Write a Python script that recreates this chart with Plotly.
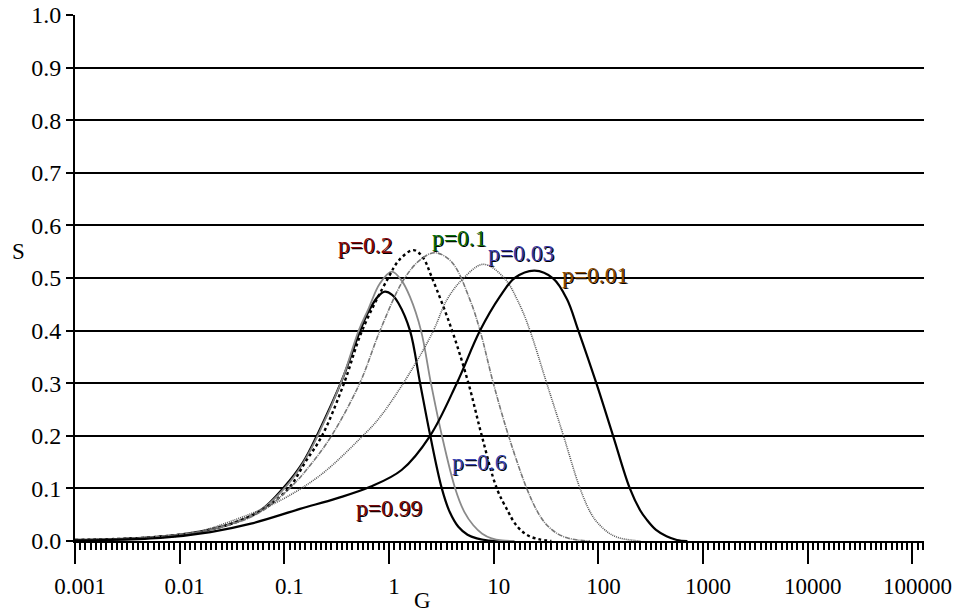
import math
import plotly.graph_objects as go

# ---- data (G on log axis, S linear) ----
G1 = [0.001, 0.0045, 0.0118, 0.028, 0.059, 0.1, 0.151, 0.212, 0.355, 0.53, 0.631, 0.794, 0.912,
      1.07, 1.23, 1.585, 1.98, 2.47, 3.19, 3.8, 4.59, 5.62, 6.89, 8.91, 11.2]
S1 = [0.002, 0.006, 0.014, 0.03, 0.058, 0.103, 0.15, 0.207, 0.306, 0.40, 0.435, 0.466, 0.474,
      0.468, 0.452, 0.40, 0.30, 0.201, 0.10, 0.055, 0.027, 0.012, 0.005, 0.001, 0.0]

G2 = [0.001, 0.00447, 0.01175, 0.0282, 0.0589, 0.1, 0.151, 0.214, 0.355, 0.513, 0.631, 0.82,
      1.062, 1.318, 1.585, 2.02, 2.512, 3.19, 4.28, 5.25, 6.38, 7.76, 9.55, 12.0, 15.8]
S2 = [0.002, 0.006, 0.014, 0.03, 0.058, 0.100, 0.148, 0.205, 0.306, 0.40, 0.44, 0.49,
      0.512, 0.495, 0.464, 0.40, 0.30, 0.201, 0.10, 0.055, 0.030, 0.014, 0.005, 0.001, 0.0]

G3 = [0.001, 0.00447, 0.01175, 0.0282, 0.0589, 0.1096, 0.1585, 0.229, 0.3715, 0.553, 0.98, 1.259,
      1.71, 2.09, 2.576, 4.0, 5.73, 7.69, 10.69, 13.8, 15.5, 17.8, 21.4, 27.5, 35.5]
S3 = [0.002, 0.006, 0.014, 0.03, 0.057, 0.10, 0.15, 0.20, 0.30, 0.40, 0.50, 0.535,
      0.553, 0.540, 0.50, 0.40, 0.30, 0.20, 0.10, 0.055, 0.037, 0.022, 0.010, 0.003, 0.0]

G4 = [0.001, 0.00447, 0.01175, 0.0282, 0.0589, 0.112, 0.178, 0.282, 0.525, 0.82, 1.371, 1.995,
      2.754, 3.981, 5.94, 7.4, 9.91, 13.8, 20.65, 26.3, 31.6, 39.8, 50.1, 63.1, 83.2]
S4 = [0.002, 0.006, 0.014, 0.029, 0.055, 0.10, 0.145, 0.20, 0.30, 0.40, 0.496, 0.535,
      0.548, 0.53, 0.458, 0.40, 0.30, 0.201, 0.10, 0.055, 0.032, 0.015, 0.006, 0.002, 0.0]

G5 = [0.001, 0.00447, 0.01175, 0.0324, 0.0912, 0.22, 0.53, 0.822, 1.71, 2.655, 3.556, 4.94,
      7.943, 12.59, 17.78, 22.18, 32.06, 46.2, 66.7, 85.1, 100, 126, 158, 200, 251]
S5 = [0.002, 0.005, 0.012, 0.039, 0.077, 0.125, 0.195, 0.236, 0.331, 0.40, 0.458, 0.496,
      0.526, 0.50, 0.448, 0.40, 0.30, 0.201, 0.10, 0.052, 0.033, 0.015, 0.006, 0.002, 0.0]

G6 = [0.001, 0.00655, 0.01968, 0.0479, 0.141, 0.316, 0.661, 1.318, 2.466, 4.436, 7.396, 11.48,
      15.85, 24.55, 37.07, 50.0, 64.3, 95.5, 138, 199.5, 251, 288, 355, 447, 562, 708]
S6 = [0.001, 0.006, 0.017, 0.033, 0.061, 0.081, 0.103, 0.135, 0.20, 0.30, 0.40, 0.465,
      0.50, 0.514, 0.499, 0.46, 0.40, 0.30, 0.20, 0.10, 0.058, 0.041, 0.021, 0.009, 0.002, 0.0]

labels = ["p=0.2", "p=0.1", "p=0.03", "p=0.01", "p=0.6", "p=0.99"]
label_G = [0.59, 4.67, 18.2, 92.7, 7.24, 1.0]
label_S = [0.5625, 0.576, 0.547, 0.505, 0.150, 0.062]
label_colors = ["#8b0a0a", "#0a6e0a", "#3a3aa8", "#8a4a00", "#3a44b0", "#7a0a0a"]

x_tickvals = [0.001, 0.01, 0.1, 1, 10, 100, 1000, 10000, 100000]
x_ticktext = ["0.001", "0.01", "0.1", "1", "10", "100", "1000", "10000", "100000"]
y_tickvals = [0.0, 0.1, 0.2, 0.3, 0.4, 0.5, 0.6, 0.7, 0.8, 0.9, 1.0]
y_ticktext = ["0.0", "0.1", "0.2", "0.3", "0.4", "0.5", "0.6", "0.7", "0.8", "0.9", "1.0"]

FONT = "Liberation Serif"

series = [
    (G1, S1, dict(color="black", width=2.2)),
    (G2, S2, dict(color="#8a8a8a", width=1.8)),
    (G3, S3, dict(color="black", width=2.4, dash="dot")),
    (G4, S4, dict(color="#777777", width=1.6, dash="5px,1px,1px,1px")),
    (G5, S5, dict(color="#555555", width=1.6, dash="1px,1px")),
    (G6, S6, dict(color="black", width=2.2)),
]

fig = go.Figure()
for g, s, ln in series:
    fig.add_trace(go.Scatter(x=g, y=s, mode="lines", line=dict(shape="spline", smoothing=1.0, **ln),
                             showlegend=False, hoverinfo="skip"))

for t, gx, sy, c in zip(labels, label_G, label_S, label_colors):
    fig.add_annotation(x=math.log10(gx), y=sy, xref="x", yref="y", text=t, showarrow=False,
                       xanchor="center", yanchor="middle",
                       font=dict(family=FONT, size=23.5, color=c, shadow="1px 1px 0px #000"))

fig.add_annotation(x=-0.0667, y=0.55, xref="paper", yref="paper", text="S", showarrow=False,
                   xanchor="center", yanchor="middle",
                   font=dict(family=FONT, size=23, color="black"))
fig.add_annotation(x=0.409, y=-0.113, xref="paper", yref="paper", text="G", showarrow=False,
                   xanchor="center", yanchor="middle",
                   font=dict(family=FONT, size=23, color="black"))

fig.update_layout(
    width=962, height=612,
    margin=dict(l=74.7, r=37.8, t=15, b=71.3, autoexpand=False),
    paper_bgcolor="white", plot_bgcolor="white",
    font=dict(family=FONT, size=23, color="black"),
    xaxis=dict(type="log", range=[-3, 5.11], tickmode="array", tickvals=x_tickvals, ticktext=x_ticktext,
               ticks="outside", ticklen=21, tickwidth=2, tickcolor="black", automargin=False,
               showline=True, linecolor="black", linewidth=2, showgrid=False, zeroline=False,
               ticklabelstandoff=2, ticklabelshift=5, tickfont=dict(family=FONT, size=23),
               minor=dict(dtick=0.05, tick0=0, ticks="outside", ticklen=7, tickwidth=1.5,
                          tickcolor="black", showgrid=False)),
    yaxis=dict(range=[0, 1], tickmode="array", tickvals=y_tickvals, ticktext=y_ticktext,
               ticks="outside", ticklen=7, tickwidth=2, tickcolor="black", automargin=False,
               showline=True, linecolor="black", linewidth=2, tickfont=dict(family=FONT, size=24),
               showgrid=True, gridcolor="black", gridwidth=2, zeroline=False),
)

fig.write_html("out.html")
